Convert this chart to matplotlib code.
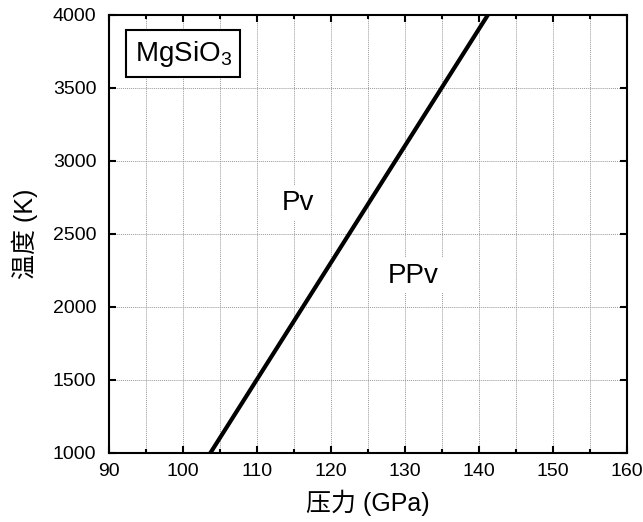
import matplotlib
matplotlib.use("Agg")
import matplotlib.pyplot as plt
from matplotlib.ticker import MultipleLocator

plt.rcParams['font.family'] = ['Liberation Sans', 'Noto Sans CJK SC', 'DejaVu Sans']
plt.rcParams['mathtext.fontset'] = 'custom'
plt.rcParams['mathtext.rm'] = 'Liberation Sans'
plt.rcParams['mathtext.it'] = 'Liberation Sans:italic'

# data: phase boundary Pv / PPv
pressure = [103.7, 141.2]
temperature = [1000, 4000]
x_ticks = [90, 100, 110, 120, 130, 140, 150, 160]
y_ticks = [1000, 1500, 2000, 2500, 3000, 3500, 4000]

fig = plt.figure(figsize=(6.43, 5.22), dpi=100)
ax = fig.add_axes([0.1695, 0.1322, 0.8055, 0.8391])

ax.plot(pressure, temperature, color='black', lw=3, solid_capstyle='butt')
ax.set_xlim(90, 160)
ax.set_ylim(1000, 4000)
ax.set_xticks(x_ticks)
ax.set_yticks(y_ticks)
ax.xaxis.set_minor_locator(MultipleLocator(5))
ax.grid(True, which='major', color='#999999', ls=(0, (1, 1)), lw=0.7)
ax.grid(True, which='minor', axis='x', color='#999999', ls=(0, (1, 1)), lw=0.7)
ax.set_axisbelow(True)
ax.tick_params(which='both', direction='in', top=True, right=True, labelsize=14, width=1.5)
ax.tick_params(which='major', length=5)
ax.tick_params(which='minor', length=3)
ax.tick_params(axis='x', pad=7)
ax.tick_params(axis='y', pad=9)
for s in ax.spines.values():
    s.set_linewidth(1.5)

ax.set_xlabel('压力 (GPa)', fontsize=18, labelpad=7)
ax.set_ylabel('温度 (K)', fontsize=18, labelpad=11)

box = dict(boxstyle='square,pad=0.15', fc='white', ec='none')
ax.text(115.5, 2715, 'Pv', fontsize=20, ha='center', va='center', bbox=box)
ax.text(131.1, 2215, 'PPv', fontsize=20, ha='center', va='center', bbox=box)
ax.text(0.143, 0.912, 'MgSiO$_3$', transform=ax.transAxes, fontsize=20, ha='center', va='center',
        bbox=dict(boxstyle='square,pad=0.3', fc='white', ec='black', lw=1.5))

fig.savefig('out.png', dpi=100)
